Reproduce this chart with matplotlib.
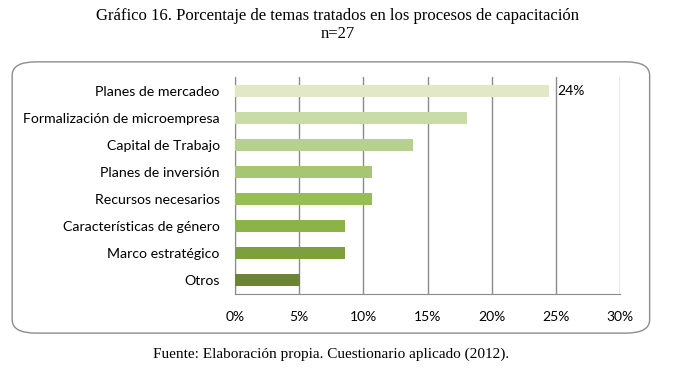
import matplotlib.pyplot as plt
from matplotlib.patches import FancyBboxPatch

# Datos del gráfico
temas = ["Planes de mercadeo", "Formalización de microempresa", "Capital de Trabajo",
         "Planes de inversión", "Recursos necesarios", "Características de género",
         "Marco estratégico", "Otros"]
porcentajes = [24.5, 18.1, 13.9, 10.7, 10.7, 8.6, 8.6, 5.1]
colores = ["#e2e8c6", "#c9dca8", "#b6d08d", "#a6c673", "#97bd56", "#8bb347", "#7e9f3e", "#6b8436"]
ticks = [0, 5, 10, 15, 20, 25, 30]

fig = plt.figure(figsize=(6.76, 3.82), dpi=100)

# Marco redondeado del gráfico
marco = FancyBboxPatch((0.018, 0.128), 0.943, 0.71, boxstyle="round,pad=0,rounding_size=0.035",
                       transform=fig.transFigure, facecolor="white", edgecolor="#8c8c8c",
                       linewidth=1.0, zorder=-1)
fig.add_artist(marco)

ax = fig.add_axes([235 / 676, 1 - 294 / 382, 385 / 676, (294 - 77) / 382])
y = list(range(len(temas)))[::-1]
ax.barh(y, porcentajes, height=0.44, color=colores, zorder=3)
ax.set_xlim(0, 30)
ax.set_ylim(-0.53, 7.53)
ax.set_xticks(ticks)
ax.set_xticklabels([f"{t}%" for t in ticks], fontsize=10, family="Lato")
ax.set_yticks(y)
ax.set_yticklabels(temas, fontsize=10.2, family="Lato")
ax.tick_params(length=0)
ax.tick_params(axis="y", pad=11)
ax.tick_params(axis="x", pad=12)
ax.xaxis.grid(True, color="#8a8a8a", linewidth=1.0)
ax.set_axisbelow(True)
for lado in ["top", "right"]:
    ax.spines[lado].set_visible(False)
ax.spines["left"].set_color("#8a8a8a")
ax.spines["bottom"].set_color("#8a8a8a")
ax.patch.set_alpha(0)

ax.text(porcentajes[0] + 0.6, y[0], "24%", va="center", ha="left", fontsize=10, family="Lato")

fig.text(0.5, 0.958, "Gráfico 16. Porcentaje de temas tratados en los procesos de capacitación",
         ha="center", va="center", fontsize=12, family="Liberation Serif")
fig.text(0.5, 0.912, "n=27", ha="center", va="center", fontsize=12, family="Liberation Serif")
fig.text(0.49, 0.072, "Fuente: Elaboración propia. Cuestionario aplicado (2012).",
         ha="center", va="center", fontsize=11, family="Liberation Serif")

fig.savefig("out.png", dpi=100)
